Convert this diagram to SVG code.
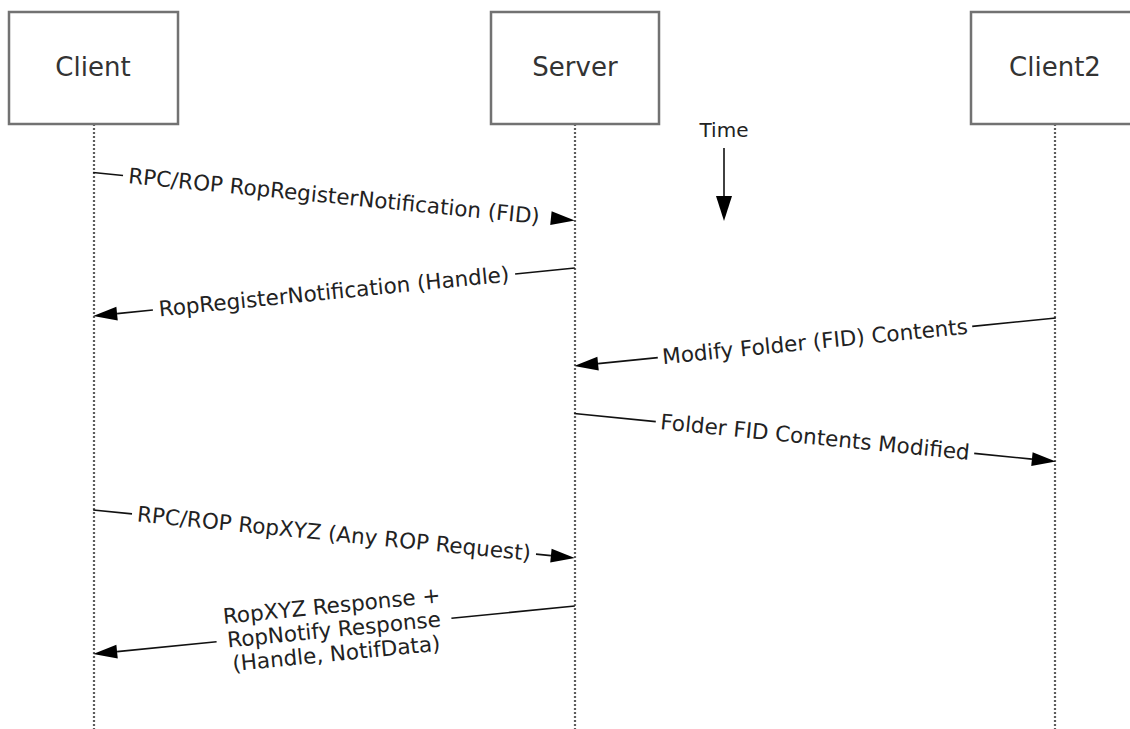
<svg xmlns="http://www.w3.org/2000/svg" width="1130" height="729" viewBox="0 0 1130 729">
<style>
.box{fill:#fff;stroke:#727272;stroke-width:2.5}
.life{stroke:#5c5c5c;stroke-width:2.2;stroke-dasharray:2 2;fill:none}
.blabel{font-family:"DejaVu Sans",Verdana,sans-serif;font-size:26px;fill:#333;text-anchor:middle}
.msg{stroke:#111;stroke-width:1.6;fill:none}
.head{fill:#000}
.mlabel{font-family:"DejaVu Sans",Verdana,sans-serif;font-size:21.5px;fill:#222;text-anchor:middle}
</style>
<rect width="1130" height="729" fill="#fff"/>
<g id="lifelines">
<line class="life" x1="94" y1="124" x2="94" y2="729"/>
<line class="life" x1="575" y1="124" x2="575" y2="729"/>
<line class="life" x1="1055" y1="124" x2="1055" y2="729"/>
</g>
<g id="client">
<rect class="box" x="9" y="12" width="169" height="112"/>
<text class="blabel" x="93" y="76">Client</text>
</g>
<g id="server">
<rect class="box" x="491" y="12" width="168" height="112"/>
<text class="blabel" x="575" y="76">Server</text>
</g>
<g id="client2">
<rect class="box" x="971" y="12" width="168" height="112"/>
<text class="blabel" x="1055" y="76">Client2</text>
</g>
<g id="time">
<text class="mlabel" x="724" y="137" style="font-size:20px">Time</text>
<line class="msg" x1="724" y1="148" x2="724" y2="200"/>
<polygon class="head" points="724,221 716,196 732,196"/>
</g>
<g id="connectors">
<g id="m1" transform="translate(334,196.5) rotate(5.687)">
<line class="msg" x1="-242" y1="0" x2="-212" y2="0"/>
<polygon class="head" points="242,0 218,-7 218,7"/>
<text class="mlabel" x="0" y="7">RPC/ROP RopRegisterNotification (FID)</text>
</g>
<g id="m2" transform="translate(334,292) rotate(-5.687)">
<line class="msg" x1="-218" y1="0" x2="-182" y2="0"/>
<line class="msg" x1="182" y1="0" x2="242" y2="0"/>
<polygon class="head" points="-242,0 -218,-7 -218,7"/>
<text class="mlabel" x="0" y="7">RopRegisterNotification (Handle)</text>
</g>
<g id="m3" transform="translate(815,342) rotate(-5.687)">
<line class="msg" x1="-218" y1="0" x2="-158" y2="0"/>
<line class="msg" x1="158" y1="0" x2="242" y2="0"/>
<polygon class="head" points="-242,0 -218,-7 -218,7"/>
<text class="mlabel" x="0" y="7">Modify Folder (FID) Contents</text>
</g>
<g id="m4" transform="translate(815,437.5) rotate(5.687)">
<line class="msg" x1="-242" y1="0" x2="-160" y2="0"/>
<line class="msg" x1="160" y1="0" x2="218" y2="0"/>
<polygon class="head" points="242,0 218,-7 218,7"/>
<text class="mlabel" x="0" y="7">Folder FID Contents Modified</text>
</g>
<g id="m5" transform="translate(334,534) rotate(5.687)">
<line class="msg" x1="-242" y1="0" x2="-203" y2="0"/>
<line class="msg" x1="203" y1="0" x2="218" y2="0"/>
<polygon class="head" points="242,0 218,-7 218,7"/>
<text class="mlabel" x="0" y="7">RPC/ROP RopXYZ (Any ROP Request)</text>
</g>
<g id="m6" transform="translate(334,630) rotate(-5.687)">
<line class="msg" x1="-218" y1="0" x2="-118" y2="0"/>
<line class="msg" x1="118" y1="0" x2="242" y2="0"/>
<polygon class="head" points="-242,0 -218,-7 -218,7"/>
<text class="mlabel" x="0" y="-17">RopXYZ Response +</text>
<text class="mlabel" x="0" y="7">RopNotify Response</text>
<text class="mlabel" x="0" y="31">(Handle, NotifData)</text>
</g>
</g>
</svg>
